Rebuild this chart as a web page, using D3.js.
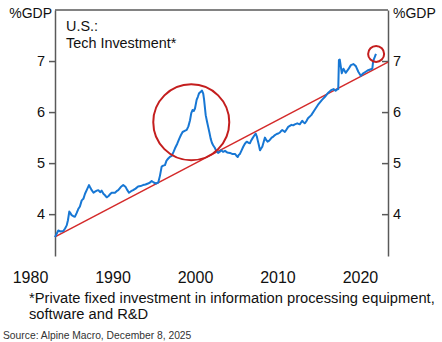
<!DOCTYPE html>
<html>
<head>
<meta charset="utf-8">
<script src="https://cdn.jsdelivr.net/npm/d3@7"></script>
<style>
  body { margin: 0; background: #fff; }
  svg { font-family: "Liberation Sans", Arial, sans-serif; display: block; }
</style>
</head>
<body>
<div id="chart"></div>
<script>
// tech investment, % of GDP
const years = [
  1983.03, 1983.25, 1983.43, 1983.7, 1984.04, 1984.25, 1984.45, 1984.6, 1984.76, 1984.9,
  1985.05, 1985.25, 1985.45, 1985.65, 1985.85, 1986.05, 1986.27, 1986.47, 1986.67, 1986.9,
  1987.15, 1987.3, 1987.48, 1987.7, 1987.88, 1988.1, 1988.28, 1988.5, 1988.69, 1988.9,
  1989.09, 1989.3, 1989.49, 1989.7, 1989.9, 1990.1, 1990.3, 1990.5, 1990.7, 1991.0,
  1991.3, 1991.6, 1991.8, 1992.0, 1992.25, 1992.5, 1992.8, 1993.1, 1993.4, 1993.7,
  1994.0, 1994.3, 1994.55, 1994.75, 1995.0, 1995.27, 1995.55, 1995.75, 1995.96, 1996.15,
  1996.36, 1996.55, 1996.76, 1996.95, 1997.18, 1997.4, 1997.58, 1997.85, 1998.1, 1998.3,
  1998.5, 1998.75, 1999.0, 1999.2, 1999.4, 1999.55, 1999.7, 1999.85, 2000.0, 2000.2,
  2000.35, 2000.5, 2000.7, 2000.85, 2001.0, 2001.1, 2001.3, 2001.45, 2001.6, 2001.75,
  2001.9, 2002.05, 2002.2, 2002.4, 2002.55, 2002.8, 2003.0, 2003.2, 2003.4, 2003.64,
  2003.9, 2004.24, 2004.5, 2004.85, 2005.0, 2005.18, 2005.3, 2005.45, 2005.65, 2005.85,
  2006.05, 2006.27, 2006.47, 2006.67, 2006.8, 2006.95, 2007.15, 2007.36, 2007.5, 2007.6,
  2007.75, 2007.88, 2008.0, 2008.16, 2008.3, 2008.48, 2008.65, 2008.8, 2009.0, 2009.1,
  2009.3, 2009.5, 2009.7, 2009.9, 2010.1, 2010.3, 2010.45, 2010.58, 2010.75, 2010.9,
  2011.1, 2011.3, 2011.5, 2011.7, 2011.9, 2012.1, 2012.4, 2012.7, 2013.0, 2013.15,
  2013.33, 2013.5, 2013.7, 2014.1, 2014.5, 2014.9, 2015.1, 2015.4, 2015.76, 2016.16,
  2016.5, 2016.8, 2017.05, 2017.2, 2017.37, 2017.45, 2017.55, 2017.8, 2018.0, 2018.27,
  2018.6, 2018.9, 2019.2, 2019.5, 2019.8, 2020.1, 2020.4, 2020.7, 2021.0, 2021.33,
  2021.5, 2021.6, 2021.8, 2021.94
];
const values = [
  3.55, 3.62, 3.68, 3.66, 3.67, 3.72, 3.78, 3.88, 4.05, 4.02,
  3.98, 3.96, 3.95, 4.02, 4.10, 4.15, 4.27, 4.30, 4.40, 4.48,
  4.57, 4.52, 4.47, 4.42, 4.44, 4.46, 4.47, 4.43, 4.46, 4.40,
  4.37, 4.33, 4.35, 4.39, 4.42, 4.42, 4.42, 4.45, 4.47, 4.53,
  4.57, 4.53, 4.47, 4.42, 4.45, 4.47, 4.50, 4.54, 4.55, 4.57,
  4.58, 4.60, 4.62, 4.65, 4.62, 4.60, 4.62, 4.75, 4.93, 4.95,
  4.96, 5.05, 5.09, 5.12, 5.14, 5.22, 5.29, 5.38, 5.48, 5.55,
  5.61, 5.63, 5.65, 5.72, 5.84, 5.98, 6.04, 6.02, 6.07, 6.24,
  6.30, 6.37, 6.40, 6.42, 6.36, 6.25, 5.94, 5.82, 5.71, 5.60,
  5.48, 5.40, 5.35, 5.30, 5.25, 5.20, 5.22, 5.25, 5.22, 5.24,
  5.21, 5.20, 5.18, 5.18, 5.15, 5.12, 5.16, 5.18, 5.25, 5.32,
  5.38, 5.42, 5.40, 5.39, 5.44, 5.48, 5.53, 5.58, 5.52, 5.45,
  5.35, 5.25, 5.28, 5.32, 5.40, 5.50, 5.45, 5.42, 5.44, 5.46,
  5.50, 5.52, 5.55, 5.57, 5.58, 5.60, 5.63, 5.65, 5.63, 5.61,
  5.66, 5.71, 5.73, 5.75, 5.74, 5.76, 5.78, 5.76, 5.83, 5.80,
  5.78, 5.82, 5.88, 5.94, 6.04, 6.14, 6.18, 6.24, 6.30, 6.38,
  6.43, 6.45, 6.42, 6.44, 6.45, 7.02, 7.03, 6.76, 6.85, 6.77,
  6.84, 6.92, 6.94, 6.90, 6.79, 6.71, 6.76, 6.79, 6.82, 6.84,
  6.85, 7.00, 7.08, 7.14
];

// trend line end points
const trendYears = [1983.03, 2023.4];
const trendValues = [3.555, 6.98];

// circled areas (centre)
const circleYears = [1999.55, 2021.96];
const circleValues = [5.80, 7.14];

const yTicks = [4, 5, 6, 7];
const xTicks = [1980, 1990, 2000, 2010, 2020];

const W = 442, H = 342;
const plotLeft = 55, plotRight = 388, plotTop = 10, plotBottom = 256;

const svg = d3.select("#chart").append("svg")
  .attr("width", W)
  .attr("height", H);

const x = d3.scaleLinear().domain([1983.03, 2023.4]).range([plotLeft, plotRight]);
const y = d3.scaleLinear().domain([3.18, 8]).range([plotBottom, plotTop]);

const axisColor = "#595959";

// axes (left + right, with a top frame line)
svg.append("g")
  .attr("transform", `translate(${plotLeft},0)`)
  .call(d3.axisLeft(y).tickValues(yTicks).tickSize(6).tickSizeOuter(0).tickFormat(d3.format("d")))
  .call(g => g.select(".domain").attr("stroke", axisColor).attr("stroke-width", 1.5))
  .call(g => g.selectAll(".tick line").attr("stroke", axisColor).attr("stroke-width", 1.5))
  .call(g => g.selectAll(".tick text").attr("x", -10).attr("font-size", 14.5)
    .attr("font-family", "Liberation Sans, Arial, sans-serif").attr("fill", "#111"));

svg.append("g")
  .attr("transform", `translate(${plotRight},0)`)
  .call(d3.axisRight(y).tickValues(yTicks).tickSize(-6).tickSizeOuter(0).tickFormat(d3.format("d")))
  .call(g => g.select(".domain").attr("stroke", axisColor).attr("stroke-width", 1.5))
  .call(g => g.selectAll(".tick line").attr("stroke", axisColor).attr("stroke-width", 1.5))
  .call(g => g.selectAll(".tick text").attr("x", 5).attr("font-size", 14.5)
    .attr("font-family", "Liberation Sans, Arial, sans-serif").attr("fill", "#111"));

svg.append("line")
  .attr("x1", plotLeft).attr("x2", plotRight)
  .attr("y1", plotTop).attr("y2", plotTop)
  .attr("stroke", axisColor)
  .attr("stroke-width", 1.5);

// x labels (no axis line)
svg.append("g")
  .attr("transform", `translate(0,${plotBottom})`)
  .call(d3.axisBottom(x).tickValues(xTicks).tickSize(0).tickFormat(d3.format("d")))
  .call(g => g.select(".domain").remove())
  .call(g => g.selectAll(".tick text").attr("y", 16).attr("font-size", 16)
    .attr("font-family", "Liberation Sans, Arial, sans-serif").attr("fill", "#111"));

// trend line
svg.append("line")
  .attr("x1", x(trendYears[0])).attr("y1", y(trendValues[0]))
  .attr("x2", x(trendYears[1])).attr("y2", y(trendValues[1]))
  .attr("stroke", "#d42a2a")
  .attr("stroke-width", 1.5);

// series
const line = d3.line()
  .x((d, i) => x(years[i]))
  .y(d => y(d));

svg.append("path")
  .datum(values)
  .attr("fill", "none")
  .attr("stroke", "#1777d4")
  .attr("stroke-width", 2)
  .attr("stroke-linejoin", "round")
  .attr("d", line);

// highlight circles
const radii = [38, 8];
svg.selectAll("circle.hl")
  .data(circleYears)
  .enter()
  .append("circle")
  .attr("class", "hl")
  .attr("cx", d => x(d))
  .attr("cy", (d, i) => y(circleValues[i]))
  .attr("r", (d, i) => radii[i])
  .attr("fill", "none")
  .attr("stroke", "#c41e1e")
  .attr("stroke-width", 2);

// texts
svg.append("text")
  .attr("x", 52).attr("y", 18)
  .attr("text-anchor", "end")
  .attr("font-size", 14)
  .attr("fill", "#111")
  .text("%GDP");

svg.append("text")
  .attr("x", 393).attr("y", 18)
  .attr("font-size", 14)
  .attr("fill", "#111")
  .text("%GDP");

svg.append("text")
  .attr("x", 66).attr("y", 31)
  .attr("font-size", 14.4)
  .attr("fill", "#111")
  .text("U.S.:");

svg.append("text")
  .attr("x", 66).attr("y", 48)
  .attr("font-size", 14.4)
  .attr("fill", "#111")
  .text("Tech Investment*");

svg.append("text")
  .attr("x", 29).attr("y", 303)
  .attr("font-size", 14.7)
  .attr("fill", "#111")
  .text("*Private fixed investment in information processing equipment,");

svg.append("text")
  .attr("x", 29).attr("y", 319)
  .attr("font-size", 14.7)
  .attr("fill", "#111")
  .text("software and R&D");

svg.append("text")
  .attr("x", 3).attr("y", 339)
  .attr("font-size", 10.3)
  .attr("fill", "#333")
  .text("Source: Alpine Macro, December 8, 2025");
</script>
</body>
</html>
